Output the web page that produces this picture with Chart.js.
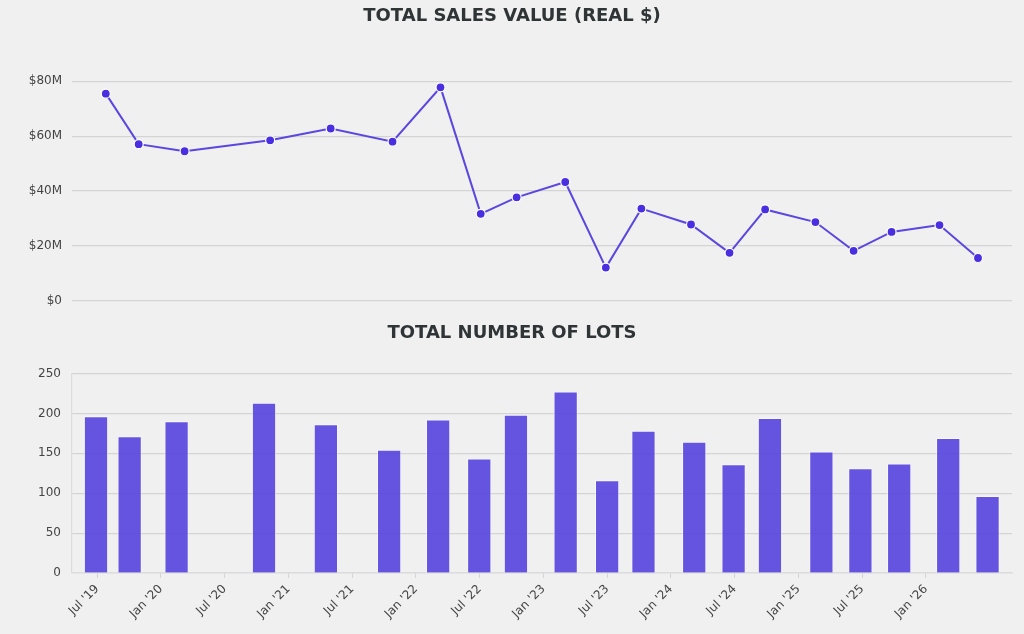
<!DOCTYPE html>
<html>
<head>
<meta charset="utf-8">
<script src="https://cdn.jsdelivr.net/npm/chart.js@4.4.1/dist/chart.umd.min.js"></script>
<style>
    html, body { margin: 0; padding: 0; background: #f0f0f0; }
    #wrap { position: relative; width: 1024px; height: 634px; overflow: hidden; }
    .box { position: absolute; left: 0; width: 1024px; }
    #topBox { top: 0; height: 318px; }
    #bottomBox { top: 318px; height: 316px; }
</style>
</head>
<body>
<div id="wrap">
    <div class="box" id="topBox"><canvas id="lineChart"></canvas></div>
    <div class="box" id="bottomBox"><canvas id="barChart"></canvas></div>
</div>
<script>
// --- dados ---
const saleDates = [
    '2019-06-28', '2019-10-03', '2020-02-15', '2020-10-23', '2021-04-17',
    '2021-10-16', '2022-03-04', '2022-06-30', '2022-10-14', '2023-03-04',
    '2023-07-01', '2023-10-14', '2024-03-07', '2024-06-28', '2024-10-11',
    '2025-03-06', '2025-06-26', '2025-10-16', '2026-03-04', '2026-06-25'
];
// valor total em milhões de dólares
const salesValue = [75.5, 57.1, 54.5, 58.5, 62.8, 58.0, 77.8, 31.7, 37.7, 43.3,
                    12.1, 33.6, 27.8, 17.5, 33.3, 28.7, 18.2, 25.1, 27.6, 15.6];
const lotCount = [196, 171, 190, 213, 186, 154, 192, 143, 198, 227,
                  116, 178, 164, 136, 194, 152, 131, 137, 169, 96];

const tickDates = ['2019-07-01', '2020-01-01', '2020-07-01', '2021-01-01', '2021-07-01',
                   '2022-01-01', '2022-07-01', '2023-01-01', '2023-07-01', '2024-01-01',
                   '2024-07-01', '2025-01-01', '2025-07-01', '2026-01-01'];
const tickLabels = ["Jul '19", "Jan '20", "Jul '20", "Jan '21", "Jul '21", "Jan '22", "Jul '22",
                    "Jan '23", "Jul '23", "Jan '24", "Jul '24", "Jan '25", "Jul '25", "Jan '26"];

// data -> meses (fracionados) desde jan/2019
function toMonths(str) {
    const [y, m, d] = str.split('-').map(Number);
    const days = new Date(y, m, 0).getDate();
    return (y - 2019) * 12 + (m - 1) + (d - 1) / days;
}

const xs = saleDates.map(toMonths);
const tickPos = tickDates.map(toMonths);
const labelAt = {};
tickPos.forEach((p, i) => { labelAt[p.toFixed(4)] = tickLabels[i]; });

const FONT = "'DejaVu Sans', 'Liberation Sans', sans-serif";
const GRID = '#d4d4d4';
const TEXT = '#444444';
Chart.defaults.font.family = FONT;
Chart.defaults.color = TEXT;

const titleOpts = (text, top, bottom) => ({
    display: true,
    text: text,
    color: '#2f3436',
    font: { size: 18, weight: 'bold', family: FONT },
    padding: { top: top, bottom: bottom }
});

// --- gráfico de linha ---
new Chart(document.getElementById('lineChart'), {
    type: 'line',
    data: {
        datasets: [{
            data: xs.map((x, i) => ({ x: x, y: salesValue[i] })),
            borderColor: '#5a46e0',
            borderWidth: 2,
            backgroundColor: '#4a2fe0',
            pointBackgroundColor: '#4a2fe0',
            pointBorderColor: '#ffffff',
            pointBorderWidth: 1.2,
            pointRadius: 4.5,
            tension: 0,
            fill: false,
            clip: false
        }]
    },
    options: {
        responsive: true,
        maintainAspectRatio: false,
        animation: false,
        layout: { padding: { left: 12, right: 12, top: 0, bottom: 14.3 } },
        plugins: {
            legend: { display: false },
            tooltip: { enabled: false },
            title: titleOpts('TOTAL SALES VALUE (REAL $)', 5.5, 54.2)
        },
        scales: {
            x: { type: 'linear', display: false, min: 2.65, max: 93.07 },
            y: {
                min: 0, max: 80,
                afterFit: (s) => { s.width = 60; },
                afterBuildTicks: (s) => { s.ticks = [0, 20, 40, 60, 80].map(v => ({ value: v })); },
                ticks: {
                    padding: 10,
                    font: { size: 12 },
                    color: TEXT,
                    callback: (v) => v === 0 ? '$0' : '$' + v + 'M'
                },
                grid: { color: GRID, lineWidth: 1.2, drawTicks: false },
                border: { display: false }
            }
        }
    }
});

// --- gráfico de barras ---
new Chart(document.getElementById('barChart'), {
    type: 'bar',
    data: {
        datasets: [{
            data: xs.map((x, i) => ({ x: x, y: lotCount[i] })),
            backgroundColor: 'rgba(85, 67, 222, 0.9)',
            borderColor: 'rgba(255, 255, 255, 0.45)',
            borderWidth: 1,
            borderSkipped: 'bottom',
            barThickness: 23.6
        }]
    },
    options: {
        responsive: true,
        maintainAspectRatio: false,
        animation: false,
        layout: { padding: { left: 12, right: 12, top: 0, bottom: 0 } },
        plugins: {
            legend: { display: false },
            tooltip: { enabled: false },
            title: titleOpts('TOTAL NUMBER OF LOTS', 4.5, 29.5)
        },
        scales: {
            x: {
                type: 'linear',
                min: 3.64, max: 92.1,
                offset: false,
                afterFit: (s) => { s.height = 61; },
                afterBuildTicks: (s) => { s.ticks = tickPos.map(v => ({ value: v })); },
                ticks: {
                    autoSkip: false,
                    minRotation: 45,
                    maxRotation: 45,
                    padding: 4,
                    font: { size: 12 },
                    color: TEXT,
                    callback: (v) => labelAt[Number(v).toFixed(4)] || ''
                },
                grid: { display: true, drawOnChartArea: false, drawTicks: true, tickLength: 5, color: GRID, offset: false },
                border: { display: true, color: '#dcdcdc', width: 1.2 }
            },
            y: {
                min: 0, max: 250,
                afterFit: (s) => { s.width = 60; },
                ticks: { stepSize: 50, padding: 11, font: { size: 12 }, color: TEXT },
                grid: { color: GRID, lineWidth: 1.2, drawTicks: false },
                border: { display: true, color: '#dcdcdc', width: 1.2 }
            }
        }
    }
});
</script>
</body>
</html>
